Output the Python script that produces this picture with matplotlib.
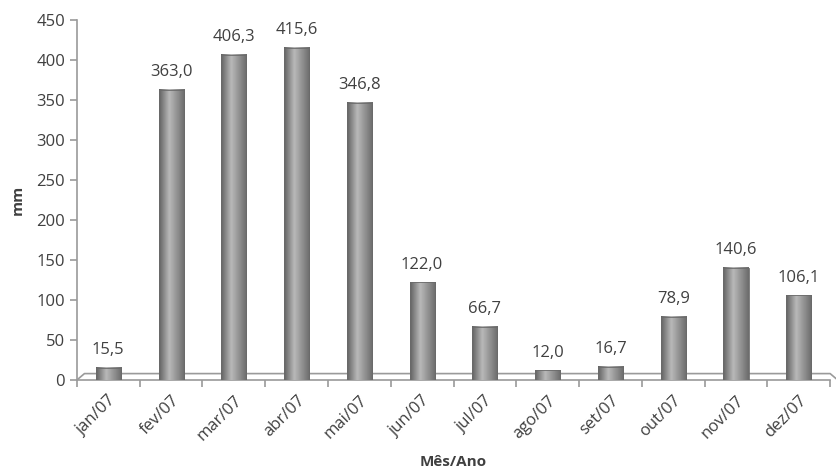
import numpy as np
import matplotlib.pyplot as plt

plt.rcParams['font.family'] = ['Open Sans', 'DejaVu Sans']

meses = ['jan/07', 'fev/07', 'mar/07', 'abr/07', 'mai/07', 'jun/07',
         'jul/07', 'ago/07', 'set/07', 'out/07', 'nov/07', 'dez/07']
chuva = [15.5, 363.0, 406.3, 415.6, 346.8, 122.0, 66.7, 12.0, 16.7, 78.9, 140.6, 106.1]
rotulos = ['15,5', '363,0', '406,3', '415,6', '346,8', '122,0',
           '66,7', '12,0', '16,7', '78,9', '140,6', '106,1']

fig = plt.figure(figsize=(8.36, 4.76), dpi=100)
ax = fig.add_axes([0.092, 0.2017, 0.901, 0.7563])

x = np.arange(len(meses))
w = 0.4

# cylinder-like shading for each bar
grad = np.concatenate([np.linspace(0.38, 0.72, 40), np.linspace(0.72, 0.42, 60)])
grad = np.tile(grad, (2, 1))
for xi, v, lab in zip(x, chuva, rotulos):
    ax.imshow(grad, cmap='gray', vmin=0, vmax=1, aspect='auto',
              extent=(xi - w / 2, xi + w / 2, 0, v), zorder=3)
    ax.add_patch(plt.Rectangle((xi - w / 2, 0), w, v, fill=False,
                               edgecolor='#6a6a6a', lw=0.6, zorder=4))
    ax.text(xi, v + 12, lab, ha='center', va='bottom', fontsize=12, color='#404040')

# 3d floor outline
ax.plot([-0.5, -0.38, 11.5, 11.62], [0, 8, 8, 0], color='#9a9a9a', lw=1.2, zorder=2, clip_on=False)

ax.set_xlim(-0.5, 11.5)
ax.set_ylim(0, 450)
ax.set_yticks(np.arange(0, 451, 50))
ax.set_xticks(x)
ax.set_xticklabels(meses, rotation=45, ha='right', rotation_mode='anchor',
                   fontsize=12, color='#404040')
ax.set_xticks(np.arange(-0.5, 12, 1), minor=True)
ax.tick_params(axis='x', which='major', length=0, pad=9)
ax.tick_params(axis='x', which='minor', length=5, color='#9a9a9a', width=1.2)
ax.tick_params(axis='y', length=5, color='#9a9a9a', width=1.2, labelsize=12,
               labelcolor='#404040')

for s in ['top', 'right']:
    ax.spines[s].set_visible(False)
for s in ['left', 'bottom']:
    ax.spines[s].set_color('#9a9a9a')
    ax.spines[s].set_linewidth(1.2)

ax.set_ylabel('mm', fontsize=11, fontweight='bold', color='#404040', labelpad=8)
ax.set_xlabel('Mês/Ano', fontsize=11, fontweight='bold', color='#404040', labelpad=8)

fig.savefig('out.png', dpi=100)
